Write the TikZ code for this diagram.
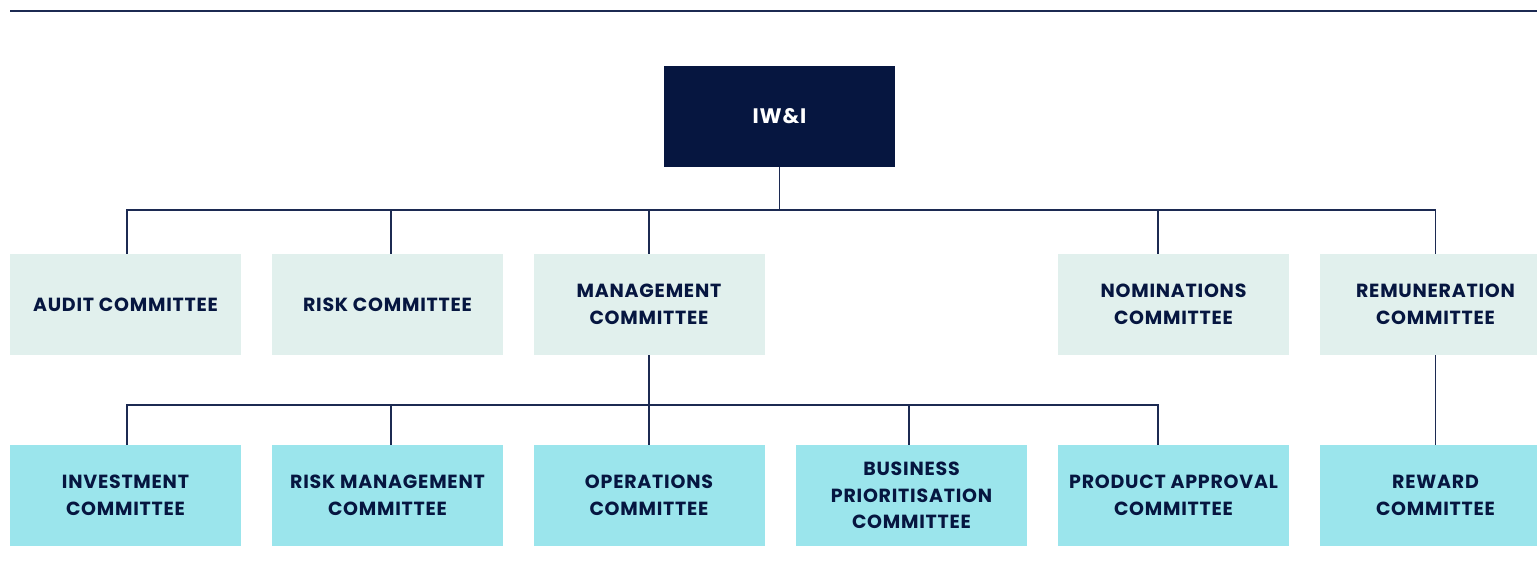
\documentclass[tikz,border=0pt]{standalone}
\usepackage{fontspec}
\setmainfont{Poppins}[LetterSpace=4]
\definecolor{navy}{HTML}{061640}
\definecolor{linec}{HTML}{1C2A52}
\definecolor{pale}{HTML}{E1F0ED}
\definecolor{cyanbox}{HTML}{9BE5EC}
\begin{document}
\begin{tikzpicture}[x=1pt,y=-1pt,
  box/.style={rectangle, minimum width=231pt, minimum height=101pt, inner sep=0pt,
    align=center, font=\fontsize{19}{26.5}\selectfont\bfseries, text=navy},
  top/.style={box, fill=navy, text=white, font=\fontsize{21}{26.5}\selectfont\bfseries},
  lvlone/.style={box, fill=pale},
  lvltwo/.style={box, fill=cyanbox},
  conn/.style={draw=linec, line width=1.3pt}]
\useasboundingbox (0,0) rectangle (1537,582);
\clip (0,0) rectangle (1537,582);
\draw[conn] (10,11) coordinate (rl) -- (1537,11) coordinate (rr);
\node[top] (iwi) at (779.5,116.5) {IW\&I};
% level one
\node[lvlone] (audit) at (125.5,304.5) {AUDIT COMMITTEE};
\node[lvlone] (risk) at (387.5,304.5) {RISK COMMITTEE};
\node[lvlone] (mgmt) at (649,304.5) {MANAGEMENT\\COMMITTEE};
\node[lvlone] (nom) at (1173.5,304.5) {NOMINATIONS\\COMMITTEE};
\node[lvlone] (rem) at (1435.5,304.5) {REMUNERATION\\COMMITTEE};
% level two
\node[lvltwo] (inv) at (125.5,495.5) {INVESTMENT\\COMMITTEE};
\node[lvltwo] (rmc) at (387.5,495.5) {RISK MANAGEMENT\\COMMITTEE};
\node[lvltwo] (ops) at (649,495.5) {OPERATIONS\\COMMITTEE};
\node[lvltwo] (bus) at (911.5,495.5) {BUSINESS\\PRIORITISATION\\COMMITTEE};
\node[lvltwo] (prod) at (1173.5,495.5) {PRODUCT APPROVAL\\COMMITTEE};
\node[lvltwo] (rew) at (1435.5,495.5) {REWARD\\COMMITTEE};
% bus coordinates
\coordinate (busa) at (780,210);
\coordinate (busb) at (649,405);
\coordinate (nomn) at ([xshift=-15.5pt]nom.north);
\coordinate (prodn) at ([xshift=-15.5pt]prod.north);
% connectors level one
\draw[conn] (iwi.south) -- (iwi.south |- busa);
\draw[conn] ([xshift=1.5pt]audit.north) -- ([xshift=1.5pt]audit.north |- busa) -- (rem.north |- busa) -- (rem.north);
\draw[conn] ([xshift=3.5pt]risk.north) -- ([xshift=3.5pt]risk.north |- busa);
\draw[conn] (mgmt.north) -- (mgmt.north |- busa);
\draw[conn] (nomn) -- (nomn |- busa);
% connectors level two
\draw[conn] (mgmt.south) -- (ops.north);
\draw[conn] ([xshift=1.5pt]inv.north) -- ([xshift=1.5pt]inv.north |- busb) -- (prodn |- busb) -- (prodn);
\draw[conn] ([xshift=3.5pt]rmc.north) -- ([xshift=3.5pt]rmc.north |- busb);
\draw[conn] ([xshift=-2.5pt]bus.north) -- ([xshift=-2.5pt]bus.north |- busb);
\draw[conn] (rem.south) -- (rew.north);
\end{tikzpicture}
\end{document}
